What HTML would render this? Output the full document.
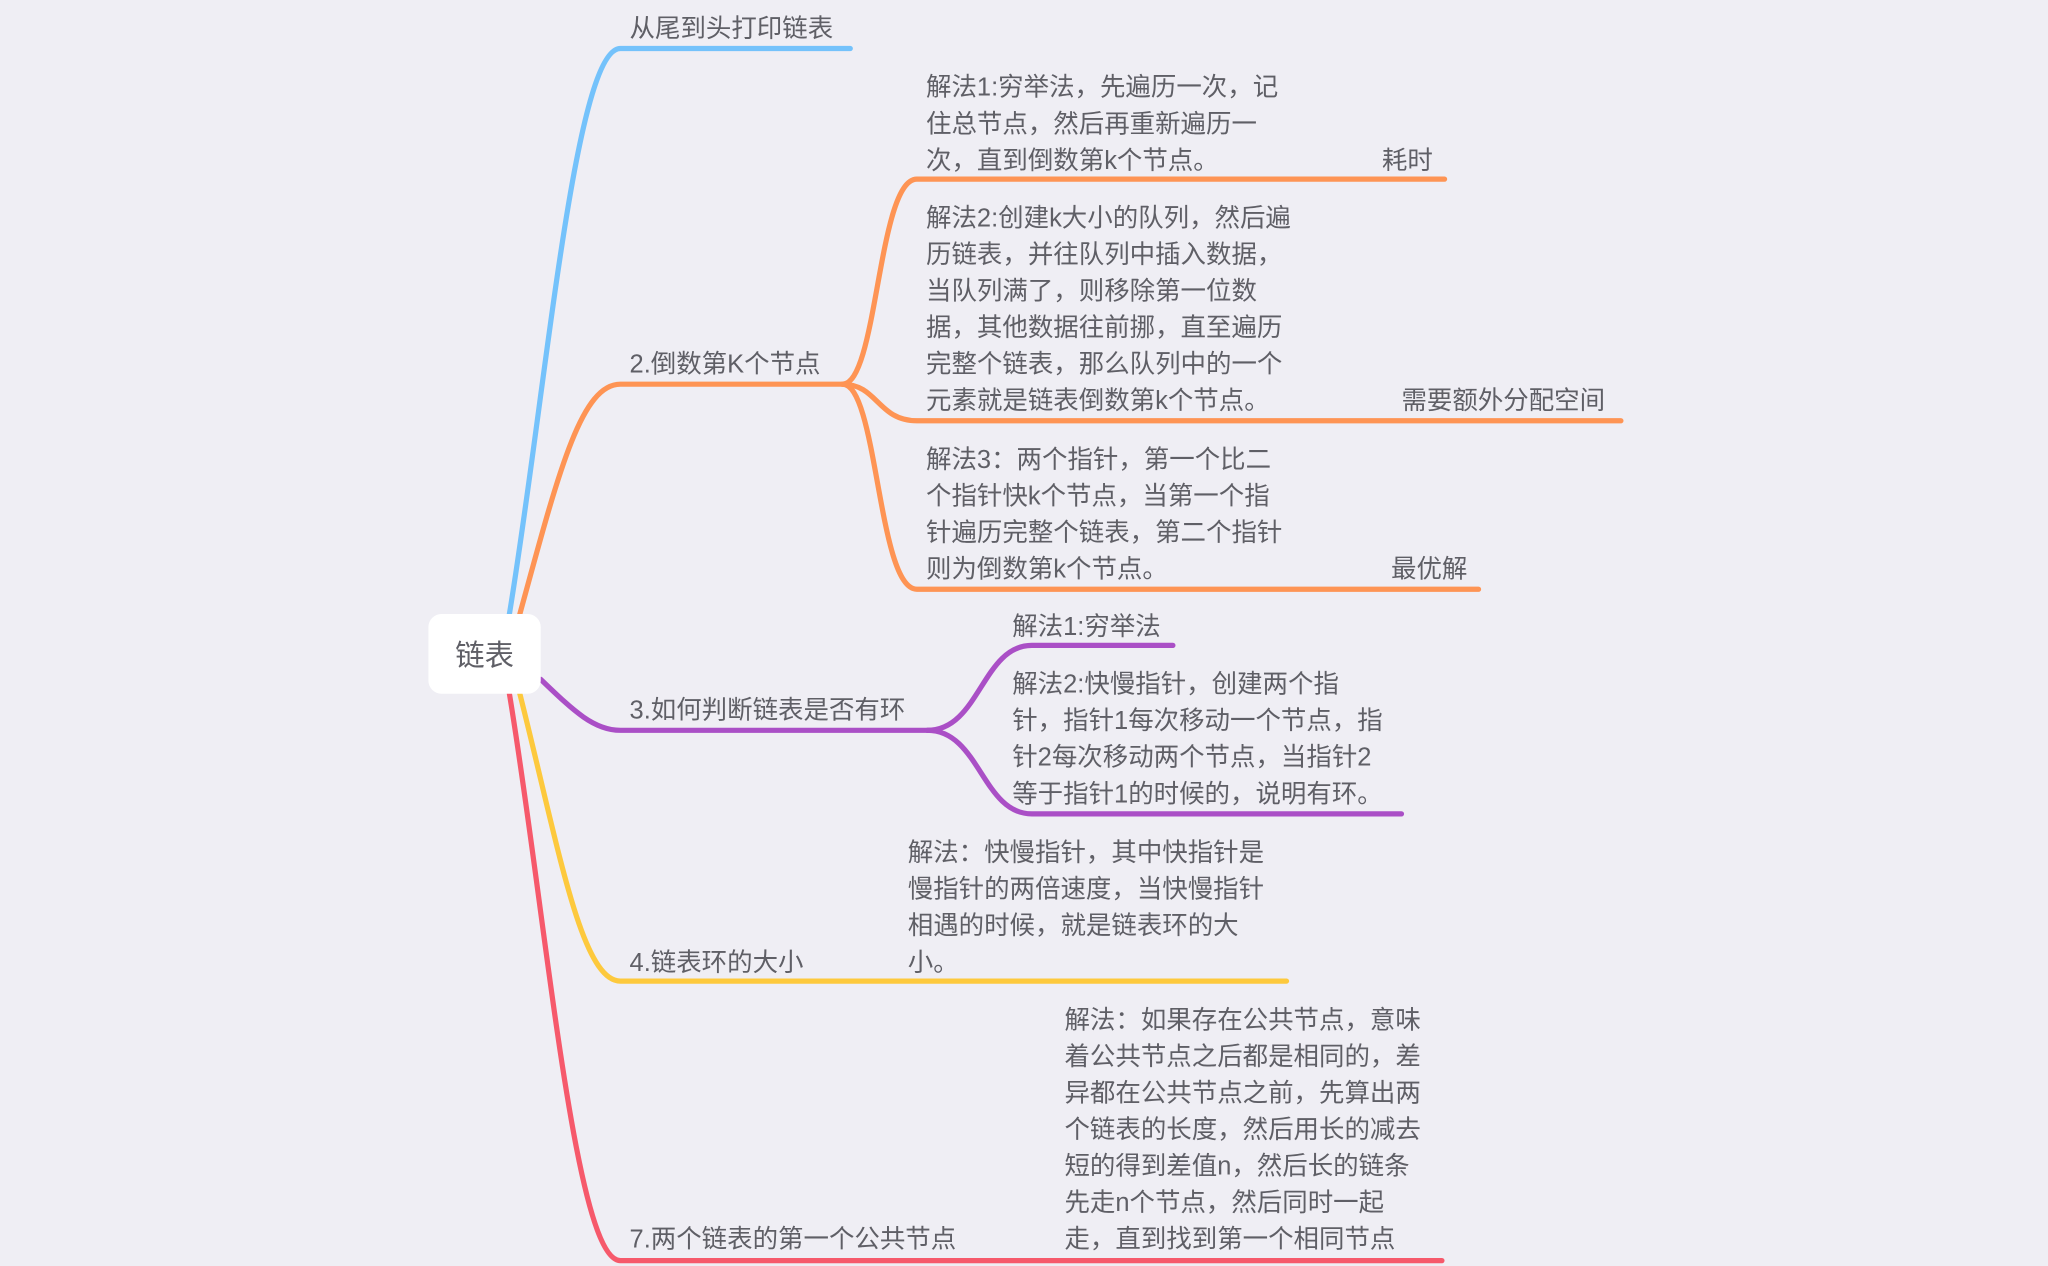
<!DOCTYPE html>
<html><head><meta charset="utf-8"><style>
html,body{margin:0;padding:0;background:#efeef4;width:2048px;height:1266px;overflow:hidden}
svg{display:block}
text{font-family:"Liberation Sans","Noto Sans CJK SC",sans-serif;font-size:19.5px;fill:#5f5f66;dominant-baseline:central}
path{fill:none;stroke-width:4;stroke-linecap:round}
</style></head><body>
<svg width="2048" height="1266" viewBox="0 0 1568 969" xmlns="http://www.w3.org/2000/svg">
<rect width="1568" height="969" fill="#efeef4"/>
<path d="M390 470 C418 300,440 37,475 37 L651 37" stroke="#74c2fb"/>
<path d="M398 470 C428 360,445 294,475 294 L645 294" stroke="#fe9454"/>
<path d="M645 294 C672 294,672 137,702 137 L1106 137" stroke="#fe9454"/>
<path d="M645 294 C672 294,672 322,702 322 L1241 322" stroke="#fe9454"/>
<path d="M645 294 C672 294,672 451,702 451 L1132 451" stroke="#fe9454"/>
<path d="M414 520 C440 545,455 559,475 559 L712 559" stroke="#aa4fc6"/>
<path d="M710 559 C750 559,752 494,790 494 L898 494" stroke="#aa4fc6"/>
<path d="M710 559 C750 559,752 623,790 623 L1073 623" stroke="#aa4fc6"/>
<path d="M398 531 C428 650,445 751,475 751 L985 751" stroke="#fdc93d"/>
<path d="M390 531 C418 700,440 965,475 965 L1104 965" stroke="#f6596b"/>
<rect x="328" y="470" width="86" height="61" rx="10" fill="#fff"/>
<text x="371" y="502" text-anchor="middle" style="font-size:22.5px">链表</text>
<g transform="translate(0,1)">
<text x="482" y="21">从尾到头打印链表</text>
<text x="482" y="278">2.倒数第K个节点</text>
<text x="709" y="66">解法1:穷举法，先遍历一次，记</text>
<text x="709" y="94">住总节点，然后再重新遍历一</text>
<text x="709" y="122">次，直到倒数第k个节点。</text>
<text x="1058" y="122">耗时</text>
<text x="709" y="166">解法2:创建k大小的队列，然后遍</text>
<text x="709" y="194">历链表，并往队列中插入数据，</text>
<text x="709" y="222">当队列满了，则移除第一位数</text>
<text x="709" y="250">据，其他数据往前挪，直至遍历</text>
<text x="709" y="278">完整个链表，那么队列中的一个</text>
<text x="709" y="306">元素就是链表倒数第k个节点。</text>
<text x="1073" y="306">需要额外分配空间</text>
<text x="709" y="351">解法3：两个指针，第一个比二</text>
<text x="709" y="379">个指针快k个节点，当第一个指</text>
<text x="709" y="407">针遍历完整个链表，第二个指针</text>
<text x="709" y="435">则为倒数第k个节点。</text>
<text x="1065" y="435">最优解</text>
<text x="482" y="543">3.如何判断链表是否有环</text>
<text x="775" y="479">解法1:穷举法</text>
<text x="775" y="523">解法2:快慢指针，创建两个指</text>
<text x="775" y="551">针，指针1每次移动一个节点，指</text>
<text x="775" y="579">针2每次移动两个节点，当指针2</text>
<text x="775" y="607">等于指针1的时候的，说明有环。</text>
<text x="695" y="652">解法：快慢指针，其中快指针是</text>
<text x="695" y="680">慢指针的两倍速度，当快慢指针</text>
<text x="695" y="708">相遇的时候，就是链表环的大</text>
<text x="695" y="736">小。</text>
<text x="482" y="736">4.链表环的大小</text>
<text x="815" y="780">解法：如果存在公共节点，意味</text>
<text x="815" y="808">着公共节点之后都是相同的，差</text>
<text x="815" y="836">异都在公共节点之前，先算出两</text>
<text x="815" y="864">个链表的长度，然后用长的减去</text>
<text x="815" y="892">短的得到差值n，然后长的链条</text>
<text x="815" y="920">先走n个节点，然后同时一起</text>
<text x="815" y="948">走，直到找到第一个相同节点</text>
<text x="482" y="948">7.两个链表的第一个公共节点</text>
</g>
</svg>
</body></html>
